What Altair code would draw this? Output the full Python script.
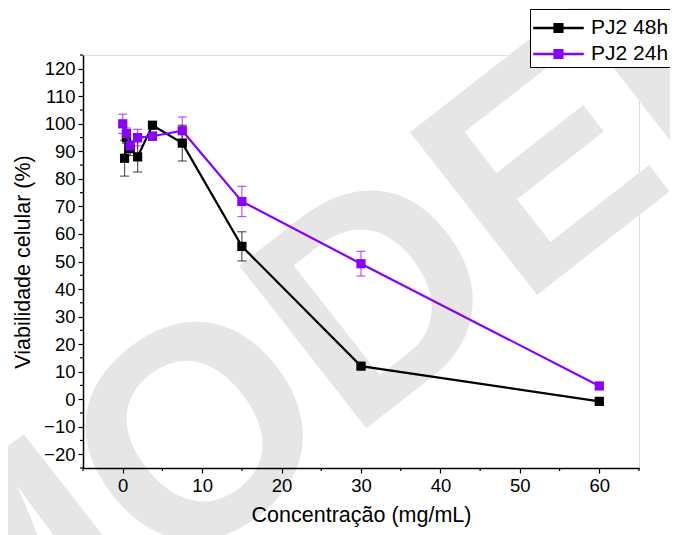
import altair as alt
import pandas as pd

# ---- data ----
series_names = ["PJ2 48h", "PJ2 24h"]
series_colors = ["#000000", "#8800ff"]

conc_48 = [0.234, 0.469, 0.9375, 1.875, 3.75, 7.5, 15, 30, 60]
via_48 = [87.5, 95, 91, 88, 99.5, 93, 55.5, 12, -0.8]
err_48 = [6.5, 2, 2.5, 5.5, 0.8, 6.5, 5.3, 0.8, 0.8]

conc_24 = [0, 0.469, 0.9375, 1.875, 3.75, 7.5, 15, 30, 60]
via_24 = [100, 96.5, 92, 95, 95.5, 97.5, 71.8, 49.2, 4.8]
err_24 = [3.5, 2, 2, 3, 1.5, 5, 5.5, 4.5, 1]

x_ticks = [0, 10, 20, 30, 40, 50, 60]
x_minor = [-5, 5, 15, 25, 35, 45, 55, 65]
y_ticks = [-20, -10, 0, 10, 20, 30, 40, 50, 60, 70, 80, 90, 100, 110, 120]
y_minor = [-25, -15, -5, 5, 15, 25, 35, 45, 55, 65, 75, 85, 95, 105, 115, 125]

watermark = "MODELO"

rows = []
for name, xs_, ys_, es in [(series_names[0], conc_48, via_48, err_48),
                           (series_names[1], conc_24, via_24, err_24)]:
    for i, (x, y, e) in enumerate(zip(xs_, ys_, es)):
        rows.append({"serie": name, "conc": x, "via": y, "lo": y - e, "hi": y + e, "ord": i})
df = pd.DataFrame(rows)

W, H = 556, 413
FONT = "Liberation Sans"

xs = alt.Scale(domain=[-5, 65], nice=False, zero=False)
ys = alt.Scale(domain=[-25, 125], nice=False, zero=False)
cscale = alt.Scale(domain=series_names, range=series_colors)
legend = alt.Legend(title=None, orient="none", legendX=447, legendY=-46,
                    symbolType="M-1,-0.08H2.2V0.08H-1Z M0.28,-0.32H0.92V0.32H0.28Z",
                    symbolSize=1000, symbolStrokeWidth=0, symbolOpacity=1,
                    labelFontSize=21, labelFont=FONT, labelColor="black",
                    strokeColor="black", padding=3, rowPadding=0,
                    fillColor="white", labelOffset=26)
color = alt.Color("serie:N", scale=cscale, sort=series_names, legend=legend)

base = alt.Chart(df)

common_ax = dict(grid=False, tickSize=5, labelFontSize=18.5, titleFontSize=21.5, labelFont=FONT,
                 titleFont=FONT, titleFontWeight="normal", labelColor="black",
                 titleColor="black", domainColor="black", tickColor="black",
                 domainWidth=1.5, tickWidth=1.2, labelOverlap=False, zindex=1)
xax = alt.Axis(values=x_ticks, title="Concentração (mg/mL)", labelPadding=3,
               titlePadding=10, **common_ax)
yax = alt.Axis(values=y_ticks, title="Viabilidade celular (%)", labelPadding=3,
               titlePadding=9, **common_ax)

wm = alt.Chart(pd.DataFrame({"t": [watermark]})).mark_text(
    font=FONT, fontSize=300, fontWeight="bold", color="#e6e6e6", angle=322,
    align="center", baseline="middle"
).encode(x=alt.value(350), y=alt.value(207), text="t:N")

err = base.mark_rule(strokeWidth=1.2, opacity=0.65).encode(
    x=alt.X("conc:Q", scale=xs, axis=xax), y=alt.Y("lo:Q", scale=ys, axis=yax), y2="hi:Q",
    color=color)
cap_lo = base.mark_tick(thickness=1.2, size=9, orient="horizontal", opacity=0.65).encode(
    x=alt.X("conc:Q", scale=xs, axis=xax), y=alt.Y("lo:Q", scale=ys, axis=yax), color=color)
cap_hi = base.mark_tick(thickness=1.2, size=9, orient="horizontal", opacity=0.65).encode(
    x=alt.X("conc:Q", scale=xs, axis=xax), y=alt.Y("hi:Q", scale=ys, axis=yax), color=color)

def series_layers(name):
    sub = alt.Chart(df[df.serie == name])
    ln = sub.mark_line(strokeWidth=2.2).encode(
        x=alt.X("conc:Q", scale=xs, axis=xax), y=alt.Y("via:Q", scale=ys, axis=yax),
        order="ord:Q", color=color)
    pt = sub.mark_point(shape="square", filled=True, size=85, opacity=1).encode(
        x=alt.X("conc:Q", scale=xs, axis=xax), y=alt.Y("via:Q", scale=ys, axis=yax),
        color=color)
    return [ln, pt]

yminor = alt.Chart(pd.DataFrame({"v": y_minor})).mark_rule(color="black", strokeWidth=1.2).encode(
    y=alt.Y("v:Q", scale=ys, axis=yax), x=alt.value(-3), x2=alt.value(0))
xminor = alt.Chart(pd.DataFrame({"v": x_minor})).mark_rule(color="black", strokeWidth=1.2).encode(
    x=alt.X("v:Q", scale=xs, axis=xax), y=alt.value(H), y2=alt.value(H + 3))

chart = alt.layer(wm, err, cap_lo, cap_hi, *series_layers(series_names[0]),
                  *series_layers(series_names[1]), yminor, xminor).properties(
    width=W, height=H,
    autosize=alt.AutoSizeParams(type="none"),
    padding={"left": 75, "top": 47, "right": 31, "bottom": 75},
).configure_view(stroke=None).configure(background="white")

chart.save("out.html", embed_options={"renderer": "svg", "actions": False})
